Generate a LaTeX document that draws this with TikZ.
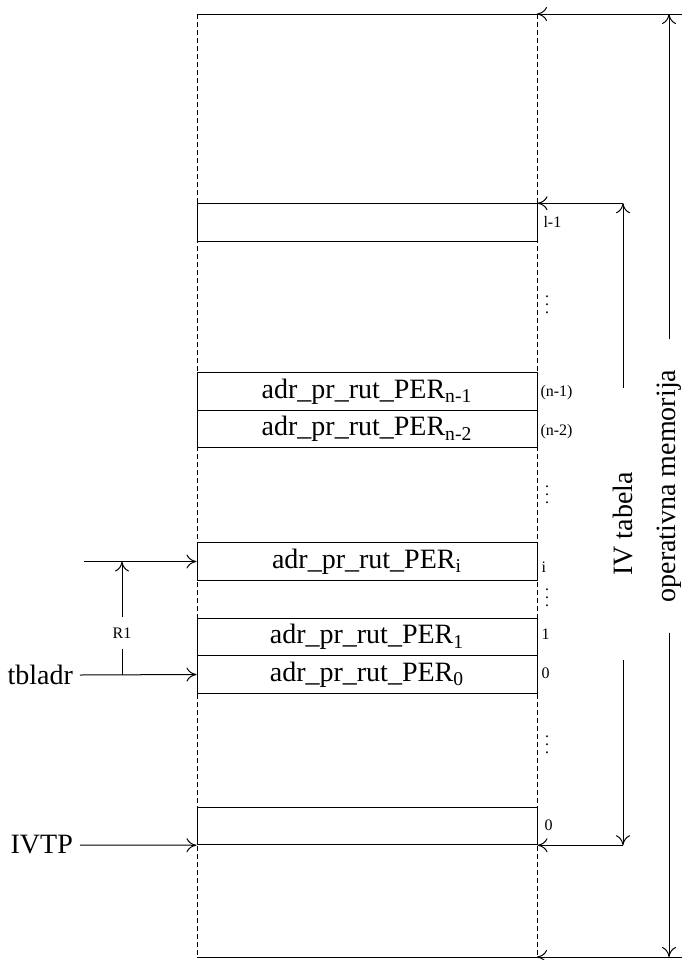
\documentclass[tikz,border=0pt]{standalone}
\usepackage{fontspec}
\setmainfont{Liberation Serif}
\usetikzlibrary{arrows.meta, positioning}
\tikzset{
  membox/.style={draw, fill=white, minimum width=170pt, minimum height=18.75pt, inner sep=0pt, font=\fontsize{14}{16}\selectfont},
  bigtxt/.style={font=\fontsize{14}{16}\selectfont},
  idx/.style={anchor=west, inner sep=0pt, font=\fontsize{8}{9}\selectfont},
  arr/.style={-{To[length=5pt,width=7pt]}},
  coldash/.style={dash pattern=on 2.5pt off 1.5pt},
}

\begin{document}
\begin{tikzpicture}[x=0.5pt, y=-0.5pt, line width=0.5pt]
  \useasboundingbox (0,0) rectangle (682,960);
  % memory column
  \coordinate (ctl) at (197,14);
  \coordinate (ctr) at (537,14);
  \coordinate (cbl) at (197,957);
  \coordinate (cbr) at (537,957);
  \coordinate (etop) at (682,14);
  \coordinate (ebot) at (682,957);
  \draw[coldash] (ctl) -- (cbl) (ctr) -- (cbr);
  \draw (ctl) -- (etop) (cbl) -- (ebot);
  \draw[arr] (etop) -- (ctr);
  \draw[arr] (ebot) -- (cbr);
  % table entries
  \node[membox] (bl) at (367,222.5) {};
  \node[membox] (bn1) at (367,391.5) {adr\_pr\_rut\_PER\textsubscript{n-1}};
  \node[membox] (bn2) at (367,429) {adr\_pr\_rut\_PER\textsubscript{n-2}};
  \node[membox] (bi) at (367,561.5) {adr\_pr\_rut\_PER\textsubscript{i}};
  \node[membox] (b1) at (367,637) {adr\_pr\_rut\_PER\textsubscript{1}};
  \node[membox] (b0) at (367,674.5) {adr\_pr\_rut\_PER\textsubscript{0}};
  \node[membox] (bivt) at (367,826) {};
  % entry numbers
  \node[idx] (nl) at (543,222) {l-1};
  \node[idx] (nn1) at (540,393) {(n-1)};
  \node[idx] (nn2) at (540,432) {(n-2)};
  \node[idx] (ni) at (541,567) {i};
  \node[idx] (n1) at (541,634) {1};
  \node[idx] (n0) at (541,673) {0};
  \node[idx] (nivt) at (544,825) {0};
  \foreach \y/\nm in {305/d1, 495/d2, 598/d3, 745/d4}
    \node[inner sep=0pt, font=\fontsize{8}{9}\selectfont] (\nm) at (547,\y-6) {$\vdots$};
  % left side
  \node[bigtxt, anchor=east] (tbladr) at (80,675) {tbladr};
  \node[bigtxt, anchor=east] (ivtp) at (80,845) {IVTP};
  \coordinate (ri) at (84,561.5);
  \draw[arr] (tbladr.east) -- (b0.west);
  \draw[arr] (ivtp.east) -- (bivt.south west);
  \draw[arr] (ri) -- (bi.west);
  \node[inner sep=5pt, font=\fontsize{8}{9}\selectfont] (r1) at (122,633) {R1};
  \draw (r1) -- (r1 |- b0.west);
  \draw[arr] (r1) -- (r1 |- bi.west);
  % right side
  \node[bigtxt, rotate=90, inner xsep=42pt] (ivt) at (623,524) {IV tabela};
  \draw[arr] (ivt.east) -- (ivt.east |- bl.north);
  \draw[arr] (ivt.west) -- (ivt.west |- bivt.south);
  \draw[arr] (ivt.east |- bl.north) -- (bl.north east);
  \draw[arr] (ivt.west |- bivt.south) -- (bivt.south east);
  \node[bigtxt, rotate=90, inner xsep=15pt] (om) at (669,486) {operativna memorija};
  \draw[arr] (om.east) -- (om.east |- etop);
  \draw[arr] (om.west) -- (om.west |- ebot);
\end{tikzpicture}
\end{document}
